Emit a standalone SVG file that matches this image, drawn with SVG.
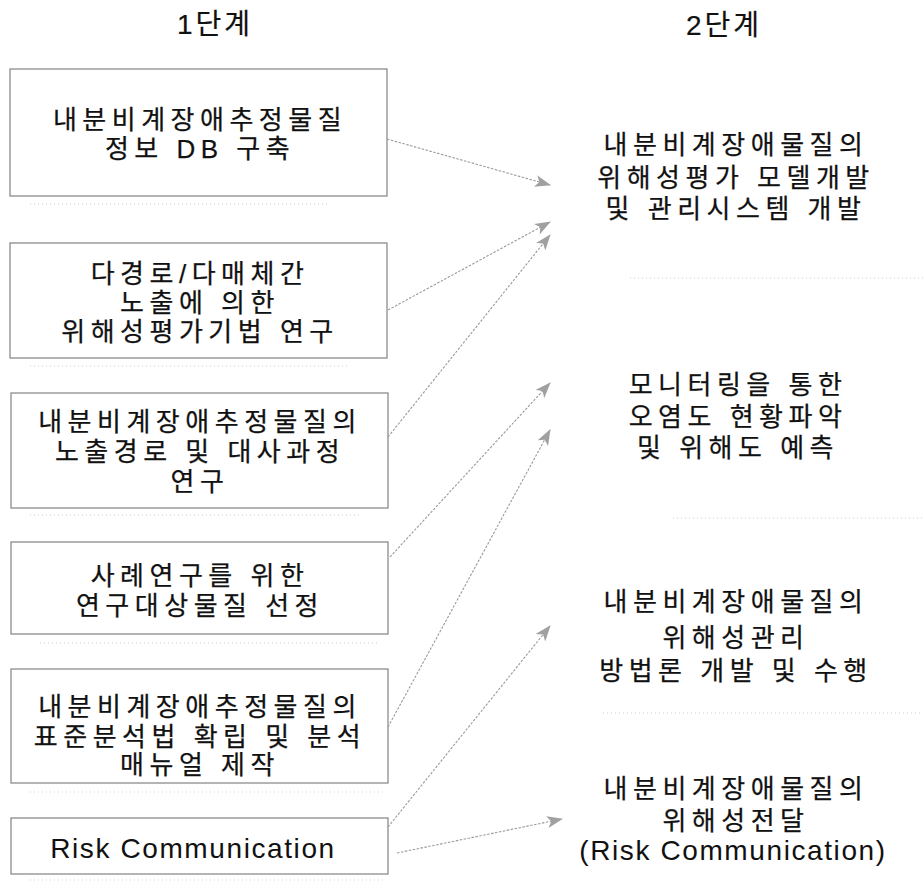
<svg xmlns="http://www.w3.org/2000/svg" width="923" height="884" viewBox="0 0 923 884">
  <style>
    .ko { font-family: "Liberation Sans", "Noto Sans CJK KR", sans-serif; font-size: 26px; fill: #111; stroke: #111; stroke-width: 0.25; text-anchor: middle; letter-spacing: 5.5px; }
    .hd { font-family: "Liberation Sans", "Noto Sans CJK KR", sans-serif; font-size: 28px; fill: #111; stroke: #111; stroke-width: 0.2; text-anchor: middle; letter-spacing: 3px; }
    .en { font-family: "Liberation Sans", Arial, sans-serif; font-size: 28px; fill: #111; text-anchor: middle; letter-spacing: 1.6px; }
    .box { fill: #fff; stroke: #8c8c8c; stroke-width: 1.3; }
    .link { fill: none; stroke: #9a9a9a; stroke-width: 1.1; stroke-dasharray: 2.5 1.5; }
    .sep { fill: none; stroke: #cfcfcf; stroke-width: 1.2; stroke-dasharray: 1 3; }
  </style>
  <defs>
    <marker id="head" viewBox="0 0 16 12" refX="15" refY="6" markerWidth="16" markerHeight="12" markerUnits="userSpaceOnUse" orient="auto">
      <path d="M0,0 L16,6 L0,12 L4,6 Z" fill="#a0a0a0"/>
    </marker>
  </defs>

  <!-- column headings -->
  <text class="hd" x="215" y="34">1단계</text>
  <text class="hd" x="724" y="35">2단계</text>

  <!-- stage 1 boxes -->
  <g id="s1-db">
    <rect class="box" x="10" y="69" width="377" height="127"/>
    <text class="ko" x="200" y="129">내분비계장애추정물질</text>
    <text class="ko" x="200" y="158">정보 DB 구축</text>
  </g>
  <g id="s1-exposure">
    <rect class="box" x="10" y="243" width="377" height="115"/>
    <text class="ko" x="200" y="283">다경로/다매체간</text>
    <text class="ko" x="200" y="312">노출에 의한</text>
    <text class="ko" x="200" y="341">위해성평가기법 연구</text>
  </g>
  <g id="s1-pathway">
    <rect class="box" x="11" y="393" width="377" height="115"/>
    <text class="ko" x="200" y="431">내분비계장애추정물질의</text>
    <text class="ko" x="200" y="461">노출경로 및 대사과정</text>
    <text class="ko" x="200" y="491">연구</text>
  </g>
  <g id="s1-case">
    <rect class="box" x="11" y="542" width="377" height="92"/>
    <text class="ko" x="200" y="585">사례연구를 위한</text>
    <text class="ko" x="200" y="615">연구대상물질 선정</text>
  </g>
  <g id="s1-analysis">
    <rect class="box" x="11" y="669" width="377" height="114"/>
    <text class="ko" x="200" y="716">내분비계장애추정물질의</text>
    <text class="ko" x="200" y="746">표준분석법 확립 및 분석</text>
    <text class="ko" x="200" y="774">매뉴얼 제작</text>
  </g>
  <g id="s1-risk">
    <rect class="box" x="11" y="818" width="377" height="56"/>
    <text class="en" x="193" y="858">Risk Communication</text>
  </g>

  <!-- stage 2 items -->
  <g id="s2-model">
    <text class="ko" x="736" y="154">내분비계장애물질의</text>
    <text class="ko" x="736" y="187">위해성평가 모델개발</text>
    <text class="ko" x="736" y="218">및 관리시스템 개발</text>
  </g>
  <g id="s2-monitoring">
    <text class="ko" x="738" y="394">모니터링을 통한</text>
    <text class="ko" x="738" y="426">오염도 현황파악</text>
    <text class="ko" x="738" y="457">및 위해도 예측</text>
  </g>
  <g id="s2-management">
    <text class="ko" x="736" y="611">내분비계장애물질의</text>
    <text class="ko" x="736" y="647">위해성관리</text>
    <text class="ko" x="736" y="680">방법론 개발 및 수행</text>
  </g>
  <g id="s2-communication">
    <text class="ko" x="736" y="798">내분비계장애물질의</text>
    <text class="ko" x="736" y="830">위해성전달</text>
    <text class="en" x="733" y="860">(Risk Communication)</text>
  </g>

  <!-- faint rules -->
  <g id="rules">
    <line class="sep" x1="630" y1="278" x2="923" y2="278"/>
    <line class="sep" x1="673" y1="518" x2="923" y2="518"/>
    <line class="sep" x1="603" y1="713" x2="923" y2="713"/>
    <line class="sep" x1="30" y1="204" x2="330" y2="204"/>
    <line class="sep" x1="30" y1="366" x2="350" y2="366"/>
    <line class="sep" x1="30" y1="515" x2="360" y2="515"/>
    <line class="sep" x1="40" y1="643" x2="380" y2="643"/>
    <line class="sep" x1="30" y1="792" x2="385" y2="792"/>
    <line class="sep" x1="30" y1="880" x2="385" y2="880"/>
  </g>

  <!-- connectors -->
  <g id="connectors">
    <line class="link" x1="387" y1="139" x2="550" y2="185" marker-end="url(#head)"/>
    <line class="link" x1="388" y1="310" x2="550" y2="222" marker-end="url(#head)"/>
    <line class="link" x1="388" y1="437" x2="550" y2="235" marker-end="url(#head)"/>
    <line class="link" x1="390" y1="557" x2="550" y2="383" marker-end="url(#head)"/>
    <line class="link" x1="388" y1="727" x2="550" y2="430" marker-end="url(#head)"/>
    <line class="link" x1="388" y1="827" x2="550" y2="626" marker-end="url(#head)"/>
    <line class="link" x1="397" y1="853" x2="562" y2="819" marker-end="url(#head)"/>
  </g>
</svg>
